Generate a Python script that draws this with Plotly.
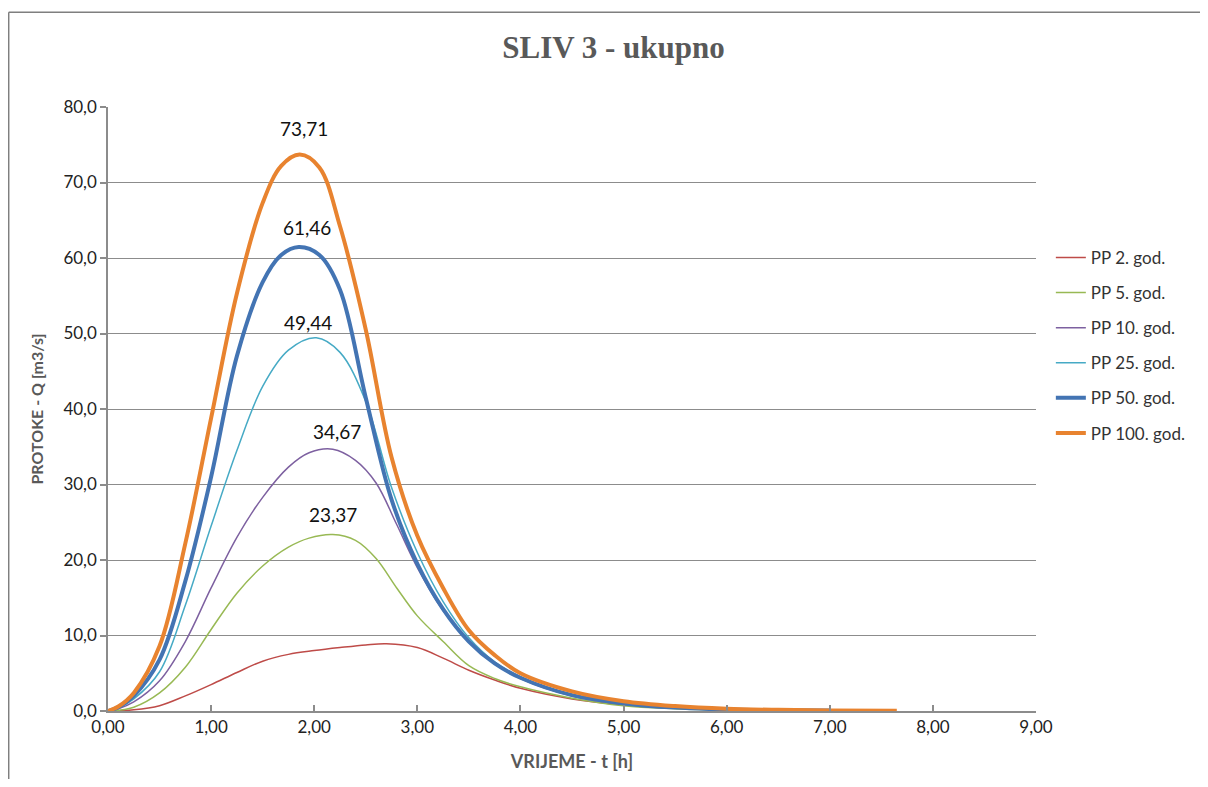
import plotly.graph_objects as go

# time [h] and flow [m3/s] per return period
t_2 = [0, 0.25, 0.5, 0.75, 1.0, 1.25, 1.5, 1.75, 2.0, 2.25, 2.5, 2.7, 3.0, 3.25, 3.5, 3.75, 4.0, 4.5, 5.0, 5.5, 6.0, 6.5, 7.0]
q_2 = [0, 0.15, 0.7, 2.0, 3.5, 5.1, 6.6, 7.5, 8.0, 8.4, 8.75, 8.9, 8.4, 7.0, 5.4, 4.1, 3.0, 1.6, 0.8, 0.35, 0.15, 0.07, 0.03]

t_5 = [0, 0.1, 0.25, 0.5, 0.75, 1.0, 1.25, 1.5, 1.75, 1.95, 2.18, 2.4, 2.6, 2.8, 3.0, 3.25, 3.5, 3.75, 4.0, 4.5, 5.0, 5.5, 6.0, 6.5]
q_5 = [0, 0.1, 0.5, 2.4, 5.8, 10.8, 15.6, 19.2, 21.7, 22.9, 23.37, 22.6, 20.2, 16.3, 12.6, 9.2, 6.0, 4.3, 3.2, 1.7, 0.7, 0.3, 0.1, 0.04]

t_10 = [0, 0.1, 0.25, 0.5, 0.75, 1.0, 1.25, 1.5, 1.75, 1.95, 2.18, 2.4, 2.6, 2.8, 3.0, 3.25, 3.5, 3.75, 4.0, 4.5, 5.0, 5.5, 6.0, 6.5]
q_10 = [0, 0.3, 1.2, 4.0, 9.2, 16.3, 23.0, 28.3, 32.3, 34.2, 34.67, 33.2, 30.2, 24.7, 19.0, 13.3, 9.2, 6.3, 4.3, 2.0, 0.9, 0.4, 0.17, 0.07]

t_25 = [0, 0.1, 0.25, 0.5, 0.75, 1.0, 1.25, 1.5, 1.75, 2.02, 2.25, 2.5, 2.75, 3.0, 3.25, 3.5, 3.75, 4.0, 4.5, 5.0, 5.5, 6.0, 6.5, 7.0]
q_25 = [0, 0.4, 1.6, 5.2, 14.0, 24.5, 34.5, 43.0, 47.8, 49.44, 47.5, 41.0, 29.6, 21.0, 14.5, 9.7, 6.5, 4.5, 2.1, 1.0, 0.45, 0.2, 0.09, 0.04]

t_50 = [0, 0.1, 0.25, 0.5, 0.75, 1.0, 1.25, 1.5, 1.68, 1.85, 2.05, 2.25, 2.5, 2.75, 3.0, 3.25, 3.5, 3.75, 4.0, 4.5, 5.0, 5.5, 6.0, 6.5, 7.0]
q_50 = [0, 0.5, 2.0, 6.8, 17.2, 31.0, 47.0, 56.8, 60.4, 61.46, 60.4, 55.8, 41.5, 28.0, 19.5, 13.5, 9.2, 6.3, 4.4, 2.1, 1.0, 0.45, 0.2, 0.1, 0.05]

t_100 = [0, 0.1, 0.25, 0.5, 0.75, 1.0, 1.25, 1.5, 1.68, 1.86, 2.05, 2.25, 2.5, 2.75, 3.0, 3.25, 3.5, 3.75, 4.0, 4.5, 5.0, 5.5, 6.0, 6.5, 7.0, 7.65]
q_100 = [0, 0.6, 2.4, 8.6, 22.2, 38.8, 55.3, 67.3, 72.2, 73.71, 72.0, 64.2, 50.5, 33.6, 23.2, 16.3, 10.7, 7.4, 5.0, 2.6, 1.3, 0.65, 0.3, 0.15, 0.08, 0.03]

names = ["PP 2. god.", "PP 5. god.", "PP 10. god.", "PP 25. god.", "PP 50. god.", "PP 100. god."]
times = [t_2, t_5, t_10, t_25, t_50, t_100]
flows = [q_2, q_5, q_10, q_25, q_50, q_100]
labelled = [False, True, True, True, True, True]

colors = ["#BE4B48", "#98B954", "#7D60A0", "#46AAC5", "#4374B3", "#E8832F"]
widths = [1.5, 1.5, 1.5, 1.5, 4, 4]
label_dy = [0, 20, 18, 15, 19, 26]
label_dx = [0, 0, 4, -8, 8, 4]

x_ticks = [0, 1, 2, 3, 4, 5, 6, 7, 8, 9]
x_ticktext = ["0,00", "1,00", "2,00", "3,00", "4,00", "5,00", "6,00", "7,00", "8,00", "9,00"]
y_ticks = [0, 10, 20, 30, 40, 50, 60, 70, 80]
y_ticktext = ["0,0", "10,0", "20,0", "30,0", "40,0", "50,0", "60,0", "70,0", "80,0"]

font = "Lato, 'Open Sans', sans-serif"
grid = "#8C8C8C"

fig = go.Figure()
annotations = []
for i, name in enumerate(names):
    fig.add_trace(go.Scatter(
        x=times[i],
        y=flows[i],
        mode="lines",
        name=name,
        legendgroup=name,
        line=dict(color=colors[i], width=widths[i], shape="spline", smoothing=1.0),
    ))
    if labelled[i]:
        peak = max(flows[i])
        tp = times[i][flows[i].index(peak)]
        annotations.append(dict(
            x=tp, y=peak, xref="x", yref="y",
            text=("%.2f" % peak).replace(".", ","),
            showarrow=False, yshift=label_dy[i], xshift=label_dx[i], yanchor="middle",
            font=dict(family=font, size=19, color="#111111"),
        ))

# page puts the plot 8px in from the corner, margins allow for that
fig.update_layout(
    width=1192,
    height=771,
    margin=dict(l=100, r=164, t=99, b=68, autoexpand=False),
    paper_bgcolor="white",
    plot_bgcolor="white",
    title=dict(
        text="<b>SLIV 3 - ukupno</b>",
        x=0.508, xanchor="center", y=0.949, yanchor="middle",
        font=dict(family="'Liberation Serif', 'Times New Roman', serif", size=31, color="#595959"),
    ),
    xaxis=dict(
        range=[0, 9], tickvals=x_ticks, ticktext=x_ticktext,
        showgrid=False, zeroline=False,
        showline=True, linecolor=grid, linewidth=1.5,
        ticks="inside", ticklen=6, tickcolor=grid, tickwidth=1.5,
        tickfont=dict(family=font, size=17, color="#222222"),
        title=dict(text="<b>VRIJEME - t [h]</b>", standoff=19,
                   font=dict(family=font, size=18, color="#595959")),
    ),
    yaxis=dict(
        range=[0, 80], tickvals=y_ticks, ticktext=y_ticktext,
        showgrid=True, gridcolor=grid, gridwidth=1.4, zeroline=False,
        showline=True, linecolor=grid, linewidth=1.5,
        ticks="outside", ticklen=6, tickcolor=grid, tickwidth=1.5,
        tickfont=dict(family=font, size=17, color="#222222"),
        title=dict(text="<b>PROTOKE - Q [m3/s]</b>", standoff=16,
                   font=dict(family=font, size=16, color="#595959")),
    ),
    legend=dict(
        x=1.016, y=0.780, xanchor="left", yanchor="top",
        font=dict(family=font, size=17, color="#333333"),
        tracegroupgap=10, itemwidth=30,
        bgcolor="rgba(0,0,0,0)",
    ),
    annotations=annotations,
    shapes=[
        dict(type="line", xref="paper", yref="paper",
             x0=-0.107, x1=1.3, y0=1.157, y1=1.157,
             line=dict(color="#7F7F7F", width=1.5)),
        dict(type="line", xref="paper", yref="paper",
             x0=-0.107, x1=-0.107, y0=-0.3, y1=1.157,
             line=dict(color="#7F7F7F", width=1.5)),
    ],
)

fig.write_html("out.html")
